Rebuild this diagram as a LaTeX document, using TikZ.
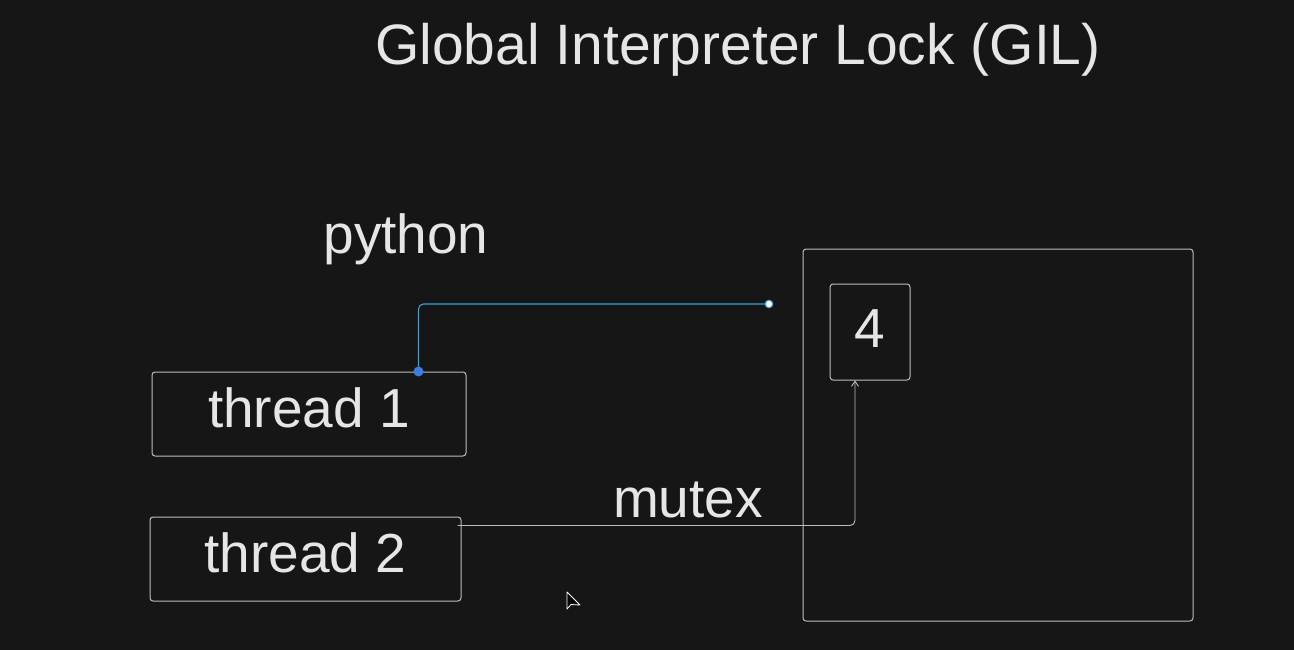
\documentclass[tikz,border=0pt]{standalone}
\usepackage{fontspec}
\setmainfont{Liberation Sans}
\usetikzlibrary{arrows.meta}
\definecolor{bg}{HTML}{161616}
\definecolor{ink}{HTML}{E6E6E6}
\definecolor{edge}{HTML}{BDBDBD}
\definecolor{wire}{HTML}{3A9FD6}
\definecolor{dotblue}{HTML}{3B7DE0}
\tikzset{
  box/.style={draw=edge, line width=1pt, rounded corners=3pt, inner sep=0pt},
  txt/.style={text=ink, inner sep=0pt, anchor=base, font=\fontsize{55}{60}\selectfont},
  threadbox/.style={box, text=ink, font=\fontsize{55}{60}\selectfont, text depth=12pt},
}
\begin{document}
\begin{tikzpicture}[x=1pt,y=-1pt]
\fill[bg] (0,0) rectangle (1294,650);
\useasboundingbox (0,0) rectangle (1294,650);

\node[txt, font=\fontsize{57}{62}\selectfont] (title) at (738,65) {Global Interpreter Lock (GIL)};
\node[txt] (python) at (406,253) {python};

\node[threadbox, minimum width=314pt, minimum height=84pt] (t1) at (309,414) {thread 1};
\node[threadbox, minimum width=311pt, minimum height=84pt] (t2) at (305.5,559) {thread 2};

\node[box, minimum width=390pt, minimum height=372pt] (mem) at (998,435) {};
\node[box, minimum width=80pt, minimum height=96pt] (four) at (870,332) {};
\node[txt] (fourtxt) at (870,347) {4};

\node[txt] (mutex) at (688,517) {mutex};

% blue connector
\coordinate (wend) at (769,304);
\coordinate (wstart) at ([xshift=267pt]t1.north west);
\draw[wire, line width=1.1pt, rounded corners=5pt] (wstart) |- (wend);
\fill[dotblue] (wstart) circle (5pt);
\draw[fill=white, draw=wire, line width=1pt] (wend) circle (3.8pt);

% mutex arrow
\coordinate (mstart) at ([yshift=-9pt]t2.north east);
\draw[edge, line width=0.9pt, rounded corners=5pt, -{Straight Barb[length=5pt,width=7pt]}]
  ([xshift=-4pt]mstart) -| ([xshift=-15pt]four.south);

% cursor
\draw[white, fill=black, line width=0.8pt, line join=round]
  (567,592) -- (567,609) -- (571,604.5) -- (580,605) -- cycle;
\end{tikzpicture}
\end{document}
